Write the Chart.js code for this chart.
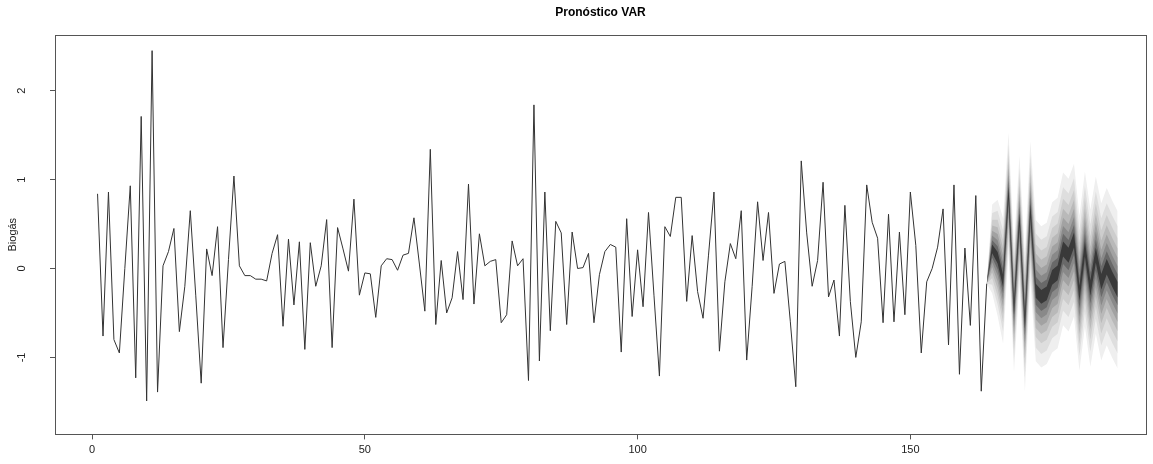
<!DOCTYPE html>
<html>
<head>
<meta charset="utf-8">
<title>Pronóstico VAR</title>
<script src="https://cdn.jsdelivr.net/npm/chart.js@4.4.1/dist/chart.umd.min.js"></script>
<style>
  html, body { margin: 0; padding: 0; background: #fff; }
  canvas { display: block; }
</style>
</head>
<body>
<canvas id="chart" width="1153" height="464"></canvas>
<script>
// observed series, t = 1..164
const obsValues = [
  0.84, -0.76, 0.86, -0.80, -0.95, 0.00, 0.93, -1.23, 1.71, -1.49,
  2.45, -1.39, 0.03, 0.19, 0.45, -0.71, -0.20, 0.65, -0.30, -1.29,
  0.22, -0.08, 0.47, -0.89, 0.10, 1.04, 0.03, -0.08, -0.08, -0.12,
  -0.12, -0.14, 0.17, 0.38, -0.65, 0.33, -0.41, 0.30, -0.91, 0.29,
  -0.20, 0.03, 0.55, -0.89, 0.46, 0.22, -0.03, 0.78, -0.30, -0.05,
  -0.06, -0.55, 0.03, 0.11, 0.10, -0.02, 0.15, 0.17, 0.57, 0.05,
  -0.48, 1.34, -0.63, 0.09, -0.50, -0.33, 0.19, -0.35, 0.95, -0.40,
  0.39, 0.03, 0.08, 0.10, -0.61, -0.52, 0.31, 0.03, 0.11, -1.26,
  1.84, -1.04, 0.86, -0.70, 0.53, 0.40, -0.63, 0.41, 0.00, 0.01,
  0.17, -0.61, -0.07, 0.19, 0.27, 0.24, -0.94, 0.56, -0.54, 0.21,
  -0.43, 0.63, -0.30, -1.21, 0.47, 0.36, 0.80, 0.80, -0.37, 0.37,
  -0.26, -0.56, 0.15, 0.86, -0.93, -0.15, 0.28, 0.11, 0.65, -1.03,
  -0.20, 0.75, 0.09, 0.63, -0.28, 0.05, 0.08, -0.60, -1.33, 1.21,
  0.40, -0.20, 0.09, 0.97, -0.32, -0.13, -0.76, 0.71, -0.37, -1.00,
  -0.60, 0.94, 0.52, 0.34, -0.61, 0.61, -0.60, 0.41, -0.52, 0.86,
  0.26, -0.95, -0.15, 0.00, 0.24, 0.67, -0.86, 0.94, -1.19, 0.23,
  -0.64, 0.82, -1.38, -0.17
];

// forecast, t = 164 (last obs) .. 188
const fcStart = 164;
const fcMean = [
  -0.17, 0.22, 0.12, -0.14, 0.85, -0.45, 0.55, -0.60, 0.65, -0.25,
  -0.32, -0.28, -0.10, -0.05, 0.22, 0.15, 0.32, -0.28, 0.22, -0.22,
  0.15, -0.15, 0.02, -0.12, -0.24
];
const fcSe = [
  0, 0.39, 0.51, 0.55, 0.53, 0.56, 0.56, 0.61, 0.61, 0.62,
  0.62, 0.62, 0.66, 0.66, 0.67, 0.67, 0.67, 0.68, 0.68, 0.69,
  0.69, 0.69, 0.69, 0.69, 0.69
];

// fan levels (inner -> outer), normal quantiles and greys
const ciLevels = [0.1, 0.2, 0.3, 0.4, 0.5, 0.6, 0.7, 0.8];
const ciZ = [0.1257, 0.2533, 0.3853, 0.5244, 0.6745, 0.8416, 1.0364, 1.2816];
const ciColors = ['#393939', '#696969', '#898989', '#a2a2a2', '#b9b9b9', '#cdcdcd', '#dedede', '#efefef'];

const xTicks = [0, 50, 100, 150];
const yTicks = [-1, 0, 1, 2];

const FONT = "'Liberation Sans', Arial, sans-serif";

const obsData = obsValues.map((v, i) => ({ x: i + 1, y: v }));

const datasets = [{
  label: 'Biogás',
  data: obsData,
  borderColor: '#333',
  borderWidth: 1,
  pointRadius: 0,
  tension: 0,
  fill: false
}];

ciLevels.forEach((lvl, k) => {
  const up = fcMean.map((m, i) => ({ x: fcStart + i, y: m + ciZ[k] * fcSe[i] }));
  const lo = fcMean.map((m, i) => ({ x: fcStart + i, y: m - ciZ[k] * fcSe[i] }));
  datasets.push({
    label: 'ci ' + lvl + ' up',
    data: up,
    borderColor: 'transparent',
    borderWidth: 0,
    pointRadius: 0,
    tension: 0,
    backgroundColor: ciColors[k],
    fill: '+1'
  });
  datasets.push({
    label: 'ci ' + lvl + ' lo',
    data: lo,
    borderColor: 'transparent',
    borderWidth: 0,
    pointRadius: 0,
    tension: 0,
    fill: false
  });
});

const plotBox = {
  id: 'plotBox',
  afterDraw(chart) {
    const { ctx, chartArea: a } = chart;
    ctx.save();
    ctx.strokeStyle = '#555';
    ctx.lineWidth = 1;
    ctx.strokeRect(Math.round(a.left) + 0.5, Math.round(a.top) + 0.5,
      Math.round(a.right - a.left), Math.round(a.bottom - a.top));
    ctx.restore();
  }
};

new Chart(document.getElementById('chart').getContext('2d'), {
  type: 'line',
  data: { datasets },
  plugins: [plotBox],
  options: {
    responsive: false,
    animation: false,
    devicePixelRatio: 1,
    layout: { padding: { left: 0, right: 7, top: 0, bottom: 0 } },
    plugins: {
      legend: { display: false },
      tooltip: { enabled: false },
      title: {
        display: true,
        text: 'Pronóstico VAR',
        fullSize: false,
        color: '#000',
        font: { family: FONT, size: 12, weight: 'bold' },
        padding: { top: 5, bottom: 15.6 }
      }
    },
    scales: {
      x: {
        type: 'linear',
        min: -6.8,
        max: 193.2,
        afterFit: s => { s.height = 27; },
        afterBuildTicks: s => { s.ticks = xTicks.map(v => ({ value: v })); },
        border: { display: false },
        grid: { display: true, drawOnChartArea: false, drawTicks: true, tickLength: 5, color: '#555' },
        ticks: {
          includeBounds: false,
          color: '#222',
          padding: 4,
          maxRotation: 0,
          font: { family: FONT, size: 11 }
        }
      },
      y: {
        type: 'linear',
        min: -1.866,
        max: 2.626,
        afterFit: s => { s.width = 55; },
        afterBuildTicks: s => { s.ticks = yTicks.map(v => ({ value: v })); },
        border: { display: false },
        grid: { display: true, drawOnChartArea: false, drawTicks: true, tickLength: 5, color: '#555' },
        title: {
          display: true,
          text: 'Biogás',
          color: '#222',
          font: { family: FONT, size: 11 },
          padding: { top: 6, bottom: 0 }
        },
        ticks: {
          includeBounds: false,
          color: '#222',
          padding: 23,
          minRotation: 90,
          maxRotation: 90,
          crossAlign: 'center',
          font: { family: FONT, size: 11 }
        }
      }
    }
  }
});
</script>
</body>
</html>
